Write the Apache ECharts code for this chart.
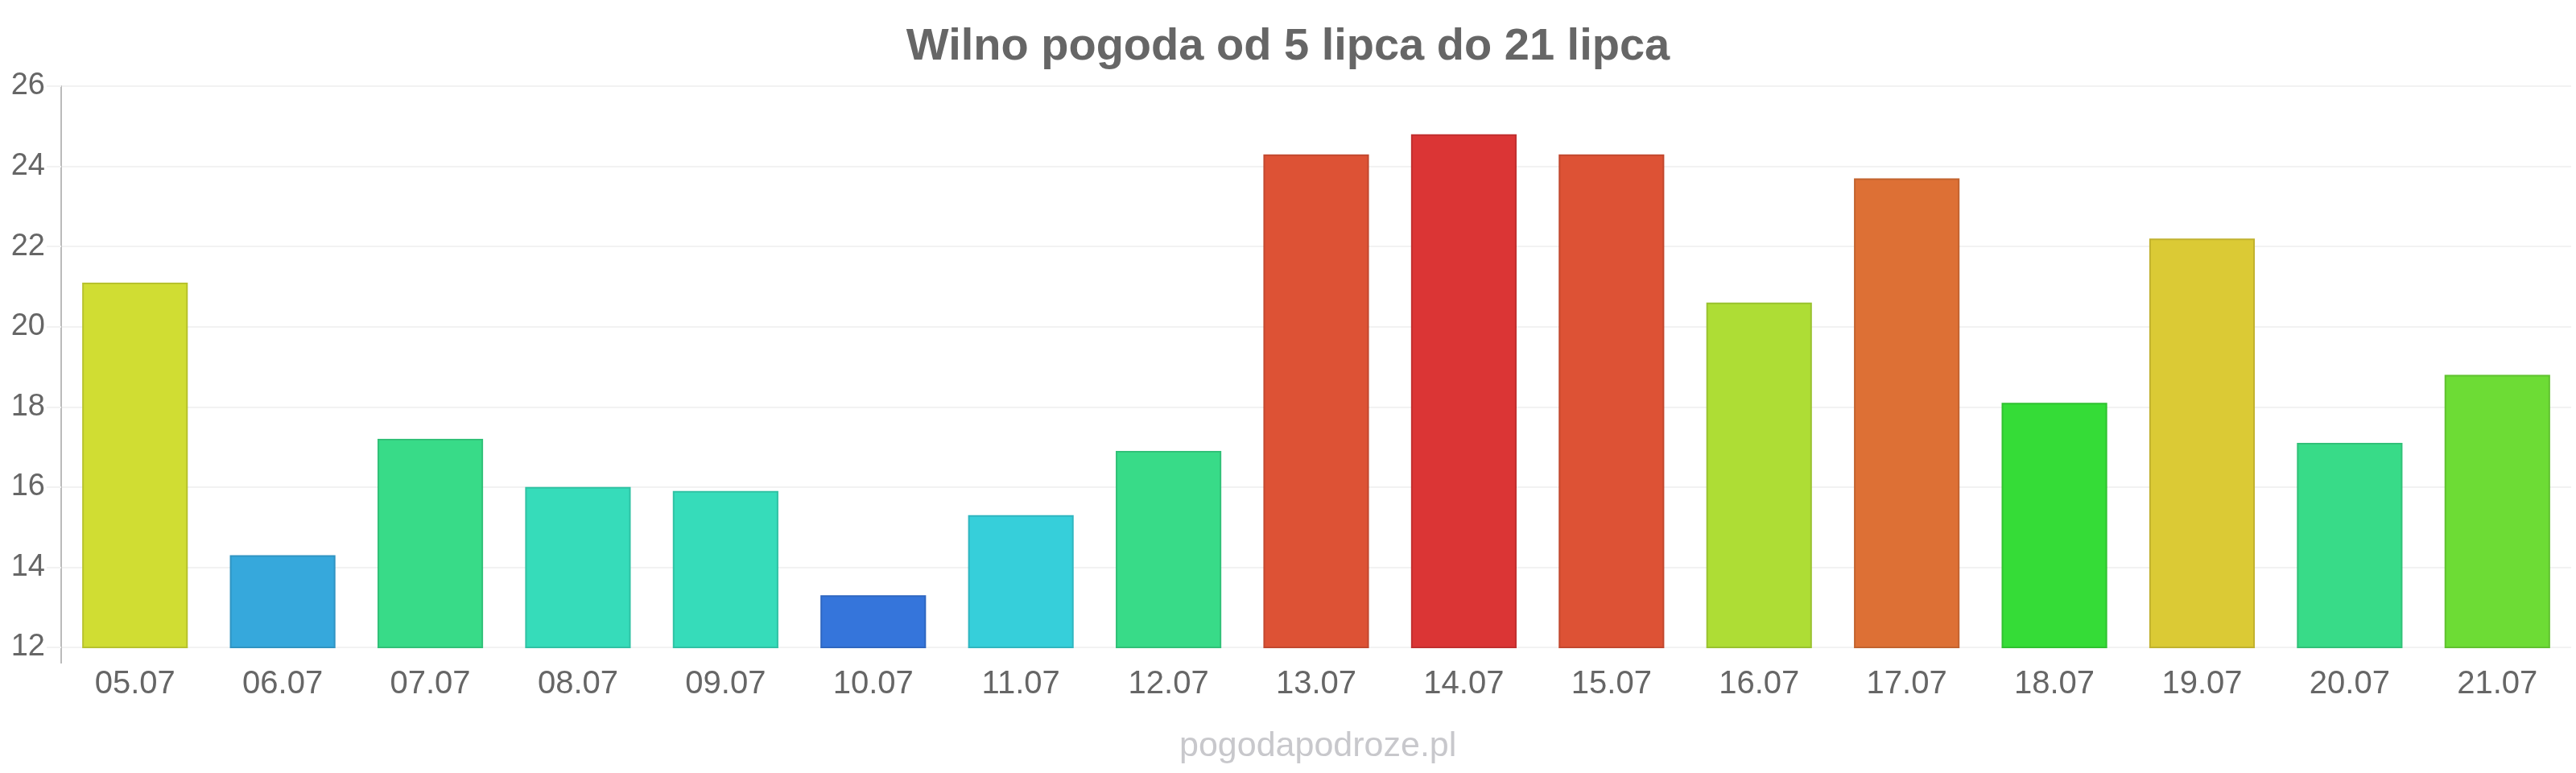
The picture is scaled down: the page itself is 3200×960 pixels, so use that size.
<!DOCTYPE html>
<html lang="pl">

<head>
    <meta charset="UTF-8">
    <title>Wilno pogoda</title>
    <script src="https://cdn.jsdelivr.net/npm/echarts@6/dist/echarts.min.js"></script>
    <style>
        html, body { margin: 0; padding: 0; background: #fff; }
        #chart { width: 3200px; height: 960px; }
    </style>
</head>

<body>
    <div id="chart"></div>

    <script>
        // dane z wykresu
        var days = ['05.07', '06.07', '07.07', '08.07', '09.07', '10.07', '11.07', '12.07', '13.07',
            '14.07', '15.07', '16.07', '17.07', '18.07', '19.07', '20.07', '21.07'];
        var temps = [21.1, 14.3, 17.2, 16.0, 15.9, 13.3, 15.3, 16.9, 24.3,
            24.8, 24.3, 20.6, 23.7, 18.1, 22.2, 17.1, 18.8];
        var barColors = ['#d0dd33', '#36a8dc', '#38db88', '#36dcba', '#36dcba', '#3575db', '#36cfda', '#38db88', '#dd5235',
            '#db3535', '#dd5235', '#aedd35', '#dd7035', '#35dc37', '#dbca35', '#38db88', '#6ddc35'];

        function darker(hex) {
            var n = parseInt(hex.slice(1), 16);
            var r = Math.round(((n >> 16) & 255) * 0.88);
            var g = Math.round(((n >> 8) & 255) * 0.88);
            var b = Math.round((n & 255) * 0.88);
            return 'rgb(' + r + ',' + g + ',' + b + ')';
        }

        var barData = [];
        for (var i = 0; i < temps.length; i++) {
            barData.push({
                value: temps[i],
                itemStyle: { color: barColors[i], borderColor: darker(barColors[i]), borderWidth: 2 }
            });
        }

        var myChart = echarts.init(document.getElementById('chart'));
        var option = {
            animation: false,
            title: {
                text: 'Wilno pogoda od 5 lipca do 21 lipca',
                left: 'center',
                top: 26,
                textStyle: { fontFamily: 'Liberation Sans', fontSize: 56, fontWeight: 'bold', color: '#666' }
            },
            grid: { left: 76, right: 6, top: 107, bottom: 156 },
            xAxis: {
                type: 'category',
                data: days,
                axisLine: { show: false },
                axisTick: { show: false },
                axisLabel: { fontFamily: 'Liberation Sans', fontSize: 40, color: '#666', margin: 26 }
            },
            yAxis: {
                type: 'value',
                min: 12,
                max: 26,
                interval: 2,
                axisLine: { show: true, lineStyle: { color: '#bbb', width: 2 } },
                axisTick: { show: true, length: 18, lineStyle: { color: '#f2f2f2', width: 2 } },
                splitLine: { show: true, lineStyle: { color: '#f2f2f2', width: 2 } },
                axisLabel: { fontFamily: 'Liberation Sans', fontSize: 38, color: '#666', margin: 20 }
            },
            series: [{
                type: 'bar',
                barWidth: '71.5%',
                data: barData
            }]
        };
        myChart.setOption(option);

        // przedłużenie osi Y w dół + podpis strony
        var base = myChart.convertToPixel({ yAxisIndex: 0 }, 12);
        myChart.setOption({
            graphic: [{
                type: 'line',
                shape: { x1: 76, y1: base, x2: 76, y2: base + 20 },
                style: { stroke: '#bbb', lineWidth: 2 }
            }, {
                type: 'text',
                left: 1465,
                top: 906,
                style: { text: 'pogodapodroze.pl', fontFamily: 'Liberation Sans', fontSize: 43, fill: '#c8c8cc' }
            }]
        });
    </script>
</body>

</html>
